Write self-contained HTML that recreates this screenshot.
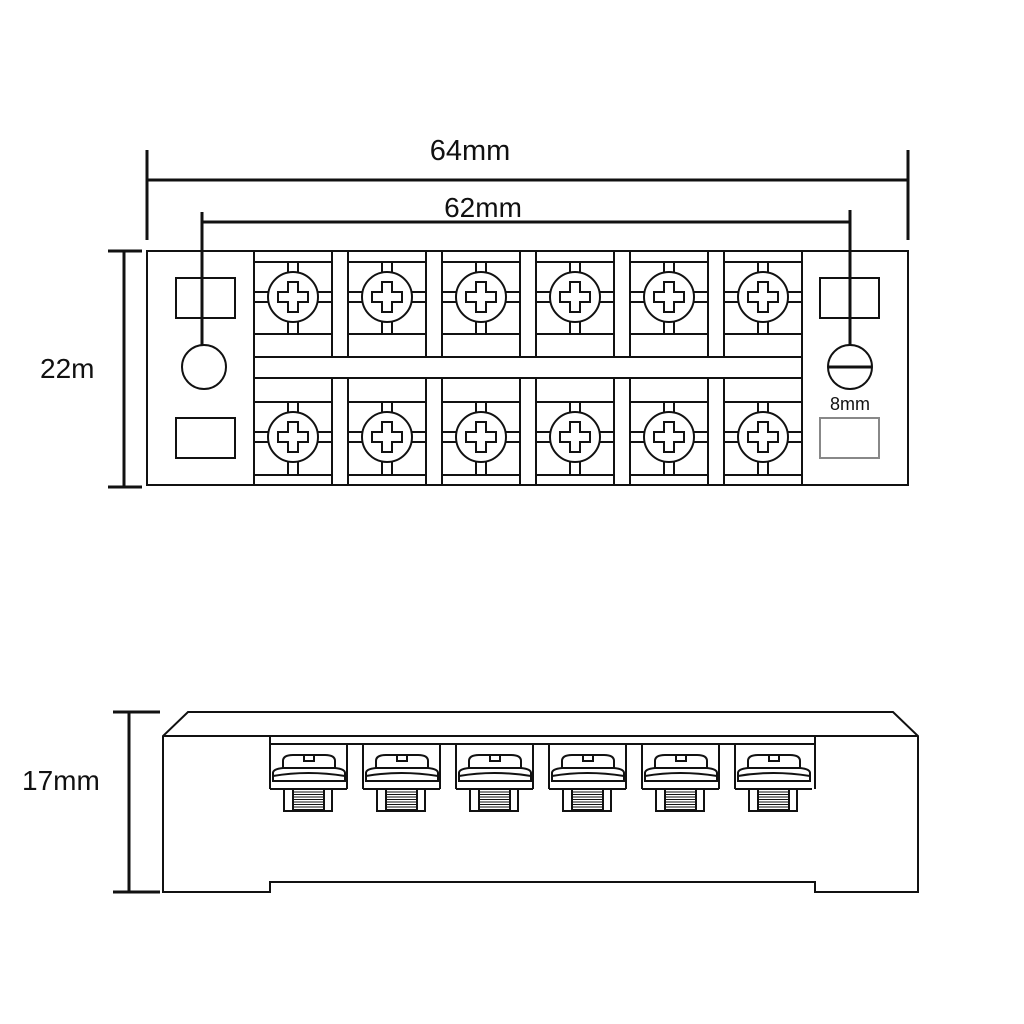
<!DOCTYPE html>
<html><head><meta charset="utf-8"><style>
html,body{margin:0;padding:0;background:#fff;}
svg{display:block;}
text{font-family:"Liberation Sans",sans-serif;fill:#111;}
</style></head><body>
<svg id="s" width="1024" height="1024" viewBox="0 0 1024 1024" xmlns="http://www.w3.org/2000/svg">
<rect width="1024" height="1024" fill="#fff"/>
<g stroke="#111" fill="none" stroke-width="2">
<line x1="147" y1="180" x2="908" y2="180" stroke-width="3"/>
<line x1="147" y1="150" x2="147" y2="240" stroke-width="3"/>
<line x1="908" y1="150" x2="908" y2="240" stroke-width="3"/>
<line x1="202" y1="222" x2="850" y2="222" stroke-width="3"/>
<line x1="202" y1="212" x2="202" y2="345" stroke-width="3"/>
<line x1="850" y1="210" x2="850" y2="345" stroke-width="3"/>
<line x1="124" y1="251" x2="124" y2="487" stroke-width="3"/>
<line x1="108" y1="251" x2="142" y2="251" stroke-width="3"/>
<line x1="108" y1="487" x2="142" y2="487" stroke-width="3"/>
<line x1="129" y1="712" x2="129" y2="892" stroke-width="3"/>
<line x1="113" y1="712" x2="160" y2="712" stroke-width="3"/>
<line x1="113" y1="892" x2="160" y2="892" stroke-width="3"/>
<rect x="147" y="251" width="761" height="234"/>
<line x1="254" y1="251" x2="254" y2="485"/>
<line x1="802" y1="251" x2="802" y2="485"/>
<line x1="254" y1="357" x2="802" y2="357"/>
<line x1="254" y1="378" x2="802" y2="378"/>
<rect x="176" y="278" width="59" height="40"/>
<circle cx="204" cy="367" r="22"/>
<rect x="176" y="418" width="59" height="40"/>
<rect x="820" y="278" width="59" height="40"/>
<circle cx="850" cy="367" r="22"/>
<line x1="829" y1="367" x2="871" y2="367" stroke-width="3"/>
<rect x="820" y="418" width="59" height="40" stroke="#888"/>
<g id="cells"></g>
<path d="M188 712 L893 712 L918 736 L918 892 L815 892 L815 882 L270 882 L270 892 L163 892 L163 736 Z"/>
<line x1="163" y1="736" x2="918" y2="736"/>
<line x1="270" y1="736" x2="270" y2="789"/>
<line x1="815" y1="736" x2="815" y2="789"/>
<line x1="270" y1="744" x2="815" y2="744"/>
<g id="screws"></g>
</g>
<text x="470" y="160" font-size="29" text-anchor="middle">64mm</text>
<text x="483" y="217" font-size="28" text-anchor="middle">62mm</text>
<text x="40" y="378" font-size="28">22m</text>
<text x="850" y="410" font-size="18" text-anchor="middle">8mm</text>
<text x="22" y="790" font-size="28">17mm</text>
</svg>
<script>
var ns="http://www.w3.org/2000/svg",c=document.getElementById("cells"),sc=document.getElementById("screws");
function add(p,t,a){var e=document.createElementNS(ns,t);for(var k in a)e.setAttribute(k,a[k]);p.appendChild(e);return e;}
for(var i=0;i<6;i++){
 var x=254+i*94,cx=x+39;
 add(c,"line",{x1:x,y1:251,x2:x,y2:357});add(c,"line",{x1:x,y1:378,x2:x,y2:485});
 add(c,"line",{x1:x+78,y1:251,x2:x+78,y2:357});add(c,"line",{x1:x+78,y1:378,x2:x+78,y2:485});
 [[262,334,297],[402,475,437]].forEach(function(r){
  add(c,"line",{x1:x,y1:r[0],x2:x+78,y2:r[0]});
  add(c,"line",{x1:x,y1:r[1],x2:x+78,y2:r[1]});
  var cy=r[2];
  add(c,"line",{x1:cx-5,y1:r[0],x2:cx-5,y2:cy-25});add(c,"line",{x1:cx+5,y1:r[0],x2:cx+5,y2:cy-25});
  add(c,"line",{x1:cx-5,y1:cy+25,x2:cx-5,y2:r[1]});add(c,"line",{x1:cx+5,y1:cy+25,x2:cx+5,y2:r[1]});
  add(c,"line",{x1:x,y1:cy-5,x2:cx-25,y2:cy-5});add(c,"line",{x1:x,y1:cy+5,x2:cx-25,y2:cy+5});
  add(c,"line",{x1:cx+25,y1:cy-5,x2:x+78,y2:cy-5});add(c,"line",{x1:cx+25,y1:cy+5,x2:x+78,y2:cy+5});
  add(c,"circle",{cx:cx,cy:cy,r:25});
  add(c,"path",{d:"M"+(cx-5)+" "+(cy-15)+"h10v10h10v10h-10v10h-10v-10h-10v-10h10z"});
 });
 var sx=270+i*93;
 if(i<5){add(sc,"line",{x1:sx+77,y1:744,x2:sx+77,y2:789});add(sc,"line",{x1:sx+93,y1:744,x2:sx+93,y2:789});}
 add(sc,"line",{x1:sx,y1:789,x2:sx+77,y2:789});
 add(sc,"path",{d:"M"+(sx+13)+" 769 v-8 q0 -6 10 -6 h32 q10 0 10 6 v8"});
 add(sc,"path",{d:"M"+(sx+34)+" 755 v6 h10 v-6"});
 add(sc,"path",{d:"M"+(sx+3)+" 781 v-8 q0-4 10-5 h52 q10 1 10 5 v8 z"});
 add(sc,"path",{d:"M"+(sx+3)+" 776 q35 -6 72 0"});
 add(sc,"rect",{x:sx+14,y:789,width:48,height:22});
 for(var t=0;t<8;t++)add(sc,"line",{x1:sx+23,y1:792+t*2.5,x2:sx+54,y2:792+t*2.5,"stroke-width":1});
 add(sc,"line",{x1:sx+23,y1:789,x2:sx+23,y2:811});add(sc,"line",{x1:sx+54,y1:789,x2:sx+54,y2:811});
}
</script>
</body></html>
